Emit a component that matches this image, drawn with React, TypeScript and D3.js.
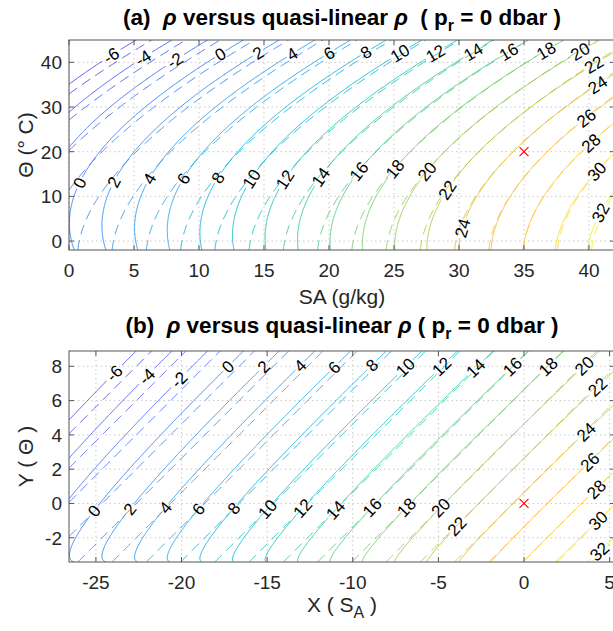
import React, { useMemo } from "react";
import * as d3 from "d3";

// One-atmosphere equation of state of seawater (UNESCO 1981 coefficients)
const PURE_WATER = [999.842594, 6.793952e-2, -9.09529e-3, 1.001685e-4, -1.120083e-6, 6.536332e-9];
const SALT_LINEAR = [8.24493e-1, -4.0899e-3, 7.6438e-5, -8.2467e-7, 5.3875e-9];
const SALT_THREE_HALVES = [-5.72466e-3, 1.0227e-4, -1.6546e-6];
const SALT_SQUARED = [4.8314e-4];
const SA_PER_SP = [35.16504 / 35];

// Reference point (red cross) and plotted ranges
const REF_POINT = [35, 20]; // [SA g/kg, Θ °C]
const SA_LIMITS = [0, 42];
const CT_LIMITS = [-2, 45];

// Contour levels of ρ - 1000 (kg m⁻³)
const LEVELS = [-6, -4, -2, 0, 2, 4, 6, 8, 10, 12, 14, 16, 18, 20, 22, 24, 26, 28, 30, 32];

// Axis ticks
const A_X_TICKS = [0, 5, 10, 15, 20, 25, 30, 35, 40];
const A_Y_TICKS = [0, 10, 20, 30, 40];
const B_X_TICKS = [-25, -20, -15, -10, -5, 0, 5];
const B_Y_TICKS = [-2, 0, 2, 4, 6, 8];

// parula colour map stops
const PARULA = [
  [0.2422, 0.1504, 0.6603], [0.2706, 0.2147, 0.8364], [0.2813, 0.3006, 0.9414],
  [0.2699, 0.3892, 0.9906], [0.1963, 0.4847, 0.9892], [0.1687, 0.5703, 0.9359],
  [0.1248, 0.6459, 0.8883], [0.0297, 0.7082, 0.8163], [0.0964, 0.75, 0.712],
  [0.2161, 0.7843, 0.5923], [0.3909, 0.8029, 0.4354], [0.6174, 0.7876, 0.2612],
  [0.8203, 0.7498, 0.1535], [0.9728, 0.7298, 0.2394], [0.9892, 0.8136, 0.1885],
  [0.9597, 0.9135, 0.1423], [0.9769, 0.9839, 0.0805],
];
const PARULA_POS = [0, 4, 8, 12, 16, 20, 24, 28, 32, 36, 40, 44, 48, 52, 56, 60, 63];

// ---- layout ----
const W = 613;
const H = 631;
const BOX_A = { left: 69, right: 615, top: 40, bottom: 250 };
const BOX_B = { left: 69, right: 615, top: 351, bottom: 562 };
const FONT = "'Liberation Sans', Arial, Helvetica, sans-serif";

// where each contour label sits: [level, x px, y px]
const LABEL_SPOTS_A: [number, number, number][] = [
  [-6, 107, 50], [-4, 139, 52], [-2, 172, 56], [0, 218, 50], [2, 257, 50], [4, 290, 50],
  [6, 328, 50], [8, 365, 50], [10, 398, 50], [12, 433, 50], [14, 472, 50], [16, 508, 50],
  [18, 545, 50], [20, 580, 50],
  [22, 595, 67], [24, 598, 85], [26, 588, 120], [28, 592, 145], [30, 597, 172], [32, 600, 212],
  [0, 80, 183], [2, 113, 182], [4, 148, 178], [6, 183, 178], [8, 217, 177], [10, 250, 178],
  [12, 283, 178], [14, 320, 177], [16, 357, 170], [18, 393, 168], [20, 428, 172],
  [22, 448, 190], [24, 463, 228],
];
const LABEL_SPOTS_B: [number, number, number][] = [
  [-6, 110, 368], [-4, 142, 372], [-2, 175, 375], [0, 223, 362], [2, 260, 363], [4, 297, 363],
  [6, 332, 365], [8, 370, 363], [10, 405, 367], [12, 440, 365], [14, 475, 367], [16, 513, 368],
  [18, 548, 367], [20, 585, 367],
  [22, 598, 388], [24, 587, 433], [26, 590, 462], [28, 595, 488], [30, 598, 520], [32, 600, 552],
  [0, 90, 507], [2, 125, 505], [4, 162, 505], [6, 197, 508], [8, 233, 508], [10, 265, 507],
  [12, 302, 508], [14, 335, 510], [16, 372, 507], [18, 407, 508], [20, 442, 508], [22, 457, 527],
];

// ---- physics helpers ----
const poly = (c: number[], t: number) => {
  let s = 0;
  let p = 1;
  for (const k of c) {
    s += k * p;
    p *= t;
  }
  return s;
};
function sigma(sa: number, ct: number) {
  const s = Math.max(sa, 0) / SA_PER_SP[0];
  return (
    poly(PURE_WATER, ct) +
    s * poly(SALT_LINEAR, ct) +
    s * Math.sqrt(s) * poly(SALT_THREE_HALVES, ct) +
    SALT_SQUARED[0] * s * s -
    1000
  );
}
const [REF_SA, REF_CT] = REF_POINT;
const SIGMA_REF = sigma(REF_SA, REF_CT);
const RHO_BETA = (sigma(REF_SA + 0.05, REF_CT) - sigma(REF_SA - 0.05, REF_CT)) / 0.1;
const toX = (sa: number) => RHO_BETA * (sa - REF_SA);
const toY = (ct: number) => SIGMA_REF - sigma(REF_SA, ct);
const fromX = (x: number) => REF_SA + x / RHO_BETA;
const fromY = (y: number) => {
  let lo = -2.5;
  let hi = 50;
  for (let k = 0; k < 60; k++) {
    const mid = (lo + hi) / 2;
    if (toY(mid) < y) lo = mid;
    else hi = mid;
  }
  return (lo + hi) / 2;
};

// ---- marching squares producing connected polylines ----
function contourChains(values: Float64Array, nx: number, ny: number, level: number) {
  const pts = new Map<number, [number, number]>();
  const segs: [number, number][] = [];
  const v = (i: number, j: number) => values[j * nx + i];
  const edge = (type: number, i: number, j: number) => {
    const k = type === 0 ? j * nx + i : nx * ny + j * nx + i;
    if (!pts.has(k)) {
      const a = v(i, j);
      const b = type === 0 ? v(i + 1, j) : v(i, j + 1);
      const t = (level - a) / (b - a);
      pts.set(k, type === 0 ? [i + t, j] : [i, j + t]);
    }
    return k;
  };
  for (let j = 0; j < ny - 1; j++) {
    for (let i = 0; i < nx - 1; i++) {
      const a = v(i, j), b = v(i + 1, j), c = v(i + 1, j + 1), d = v(i, j + 1);
      const sa = a >= level, sb = b >= level, sc = c >= level, sd = d >= level;
      if (sa === sb && sb === sc && sc === sd) continue;
      const top = sa !== sb ? edge(0, i, j) : -1;
      const right = sb !== sc ? edge(1, i + 1, j) : -1;
      const bottom = sd !== sc ? edge(0, i, j + 1) : -1;
      const left = sa !== sd ? edge(1, i, j) : -1;
      const cross = [top, right, bottom, left].filter((k) => k >= 0);
      if (cross.length === 2) segs.push([cross[0], cross[1]]);
      else if (cross.length === 4) {
        const centre = (a + b + c + d) / 4 >= level;
        if (centre === sa) segs.push([top, right], [bottom, left]);
        else segs.push([top, left], [right, bottom]);
      }
    }
  }
  const adj = new Map<number, number[]>();
  segs.forEach((s, idx) => {
    for (const k of s) {
      if (!adj.has(k)) adj.set(k, []);
      adj.get(k)!.push(idx);
    }
  });
  const used = new Uint8Array(segs.length);
  const walk = (startKey: number, startSeg: number) => {
    const chain = [startKey];
    let k = startKey;
    let s = startSeg;
    while (s >= 0 && !used[s]) {
      used[s] = 1;
      const [p, q] = segs[s];
      k = p === k ? q : p;
      chain.push(k);
      const nxt = adj.get(k)!.find((x) => !used[x]);
      s = nxt === undefined ? -1 : nxt;
    }
    return chain.map((key) => pts.get(key)!);
  };
  const chains: [number, number][][] = [];
  adj.forEach((list, k) => {
    if (list.length === 1 && !used[list[0]]) chains.push(walk(k, list[0]));
  });
  segs.forEach((s, idx) => {
    if (!used[idx]) chains.push(walk(s[0], idx));
  });
  return chains;
}

type Box = { left: number; right: number; top: number; bottom: number };

function buildPanel(
  box: Box,
  xDomain: number[],
  yDomain: number[],
  nx: number,
  ny: number,
  colMap: (x: number) => number,
  rowMap: (y: number) => number
) {
  const xs = d3.scaleLinear().domain(xDomain).range([box.left, box.right]);
  const ys = d3.scaleLinear().domain(yDomain).range([box.bottom, box.top]);
  const dx = (xDomain[1] - xDomain[0]) / (nx - 1);
  const dy = (yDomain[1] - yDomain[0]) / (ny - 1);
  const solid = new Float64Array(nx * ny);
  const dashed = new Float64Array(nx * ny);
  for (let j = 0; j < ny; j++) {
    const ct = rowMap(yDomain[0] + j * dy);
    const sRef = sigma(REF_SA, ct);
    for (let i = 0; i < nx; i++) {
      const sa = colMap(xDomain[0] + i * dx);
      solid[j * nx + i] = sigma(sa, ct);
      dashed[j * nx + i] = sRef + RHO_BETA * (sa - REF_SA);
    }
  }
  const toPix = (p: [number, number]): [number, number] => [
    xs(xDomain[0] + p[0] * dx),
    ys(yDomain[0] + p[1] * dy),
  ];
  const lines = (field: Float64Array) =>
    LEVELS.map((lv) => ({
      level: lv,
      chains: contourChains(field, nx, ny, lv).map((c) => c.map(toPix)),
    }));
  const [sMin, sMax] = d3.extent(solid) as [number, number];
  const [qMin, qMax] = d3.extent(dashed) as [number, number];
  return {
    xs,
    ys,
    solid: lines(solid),
    dashed: lines(dashed),
    range: [Math.min(sMin, qMin), Math.max(sMax, qMax)],
  };
}

function placeLabels(
  sets: { level: number; chains: [number, number][][] }[],
  spots: [number, number, number][]
) {
  const out: { level: number; x: number; y: number; angle: number }[] = [];
  for (const [lv, ax, ay] of spots) {
    const set = sets.find((s) => s.level === lv);
    if (!set) continue;
    let best: { line: [number, number][]; k: number } | null = null;
    let bd = Infinity;
    for (const line of set.chains) {
      line.forEach((p, k) => {
        const d = (p[0] - ax) ** 2 + (p[1] - ay) ** 2;
        if (d < bd) {
          bd = d;
          best = { line, k };
        }
      });
    }
    if (!best) continue;
    const { line, k } = best as { line: [number, number][]; k: number };
    const p = line[k];
    let a = k;
    while (a > 0 && Math.hypot(line[a][0] - p[0], line[a][1] - p[1]) < 6) a--;
    let b = k;
    while (b < line.length - 1 && Math.hypot(line[b][0] - p[0], line[b][1] - p[1]) < 6) b++;
    let ang = (Math.atan2(line[b][1] - line[a][1], line[b][0] - line[a][0]) * 180) / Math.PI;
    if (ang > 90) ang -= 180;
    if (ang < -90) ang += 180;
    out.push({ level: lv, x: p[0], y: p[1], angle: ang });
  }
  return out;
}

const lineGen = d3.line<[number, number]>();

function Panel({
  id,
  box,
  data,
  colour,
  labels,
  xTicks,
  yTicks,
  cross,
}: {
  id: string;
  box: Box;
  data: ReturnType<typeof buildPanel>;
  colour: (v: number) => string;
  labels: ReturnType<typeof placeLabels>;
  xTicks: number[];
  yTicks: number[];
  cross: [number, number];
}) {
  const { xs, ys } = data;
  const axisCol = "#262626";
  const tick = 5;
  const lblSize = 17;
  return (
    <g>
      <defs>
        <clipPath id={`clip-${id}`}>
          <rect x={box.left} y={box.top} width={box.right - box.left} height={box.bottom - box.top} />
        </clipPath>
        <mask id={`mask-${id}`} maskUnits="userSpaceOnUse" x={0} y={0} width={W} height={H}>
          <rect x={0} y={0} width={W} height={H} fill="white" />
          {labels.map((l, i) => {
            const w = String(l.level).length * lblSize * 0.56 + 3;
            return (
              <rect
                key={i}
                x={-w / 2}
                y={-7}
                width={w}
                height={14}
                fill="black"
                transform={`translate(${l.x},${l.y}) rotate(${l.angle})`}
              />
            );
          })}
        </mask>
      </defs>
      {/* grid */}
      <g stroke="#bdbdbd" strokeWidth={0.8} strokeDasharray="1.5 3">
        {xTicks.map((t) => (
          <line key={`gx${t}`} x1={xs(t)} x2={xs(t)} y1={box.top} y2={box.bottom} />
        ))}
        {yTicks.map((t) => (
          <line key={`gy${t}`} x1={box.left} x2={box.right} y1={ys(t)} y2={ys(t)} />
        ))}
      </g>
      <g clipPath={`url(#clip-${id})`} fill="none">
        <g strokeWidth={0.9} strokeDasharray="10 6">
          {data.dashed.map((s) =>
            s.chains.map((c, k) => (
              <path key={`d${s.level}-${k}`} d={lineGen(c) || ""} stroke={colour(s.level)} />
            ))
          )}
        </g>
        <g strokeWidth={0.9} mask={`url(#mask-${id})`}>
          {data.solid.map((s) =>
            s.chains.map((c, k) => (
              <path key={`s${s.level}-${k}`} d={lineGen(c) || ""} stroke={colour(s.level)} />
            ))
          )}
        </g>
      </g>
      {/* contour labels */}
      <g fontFamily={FONT} fontSize={lblSize} fill="#000" textAnchor="middle">
        {labels.map((l, i) => (
          <text key={i} transform={`translate(${l.x},${l.y}) rotate(${l.angle})`} dy="0.36em">
            {String(l.level)}
          </text>
        ))}
      </g>
      {/* reference point */}
      <path
        d={`M${xs(cross[0]) - 4.5},${ys(cross[1]) - 4.5}L${xs(cross[0]) + 4.5},${ys(cross[1]) + 4.5}M${
          xs(cross[0]) - 4.5
        },${ys(cross[1]) + 4.5}L${xs(cross[0]) + 4.5},${ys(cross[1]) - 4.5}`}
        stroke="#ff0000"
        strokeWidth={1.1}
        fill="none"
      />
      {/* axes box and ticks */}
      <g stroke="#555" strokeWidth={1} fill="none">
        <rect x={box.left} y={box.top} width={box.right - box.left} height={box.bottom - box.top} />
        {xTicks.map((t) => (
          <g key={`tx${t}`}>
            <line x1={xs(t)} x2={xs(t)} y1={box.bottom} y2={box.bottom - tick} />
            <line x1={xs(t)} x2={xs(t)} y1={box.top} y2={box.top + tick} />
          </g>
        ))}
        {yTicks.map((t) => (
          <g key={`ty${t}`}>
            <line x1={box.left} x2={box.left + tick} y1={ys(t)} y2={ys(t)} />
            <line x1={box.right} x2={box.right - tick} y1={ys(t)} y2={ys(t)} />
          </g>
        ))}
      </g>
      <g fontFamily={FONT} fontSize={19} fill={axisCol}>
        {xTicks.map((t) => (
          <text key={`lx${t}`} x={xs(t)} y={box.bottom + 27} textAnchor="middle">
            {String(t)}
          </text>
        ))}
        {yTicks.map((t) => (
          <text key={`ly${t}`} x={box.left - 7} y={ys(t)} dy="0.36em" textAnchor="end">
            {String(t)}
          </text>
        ))}
      </g>
    </g>
  );
}

export default function App() {
  const model = useMemo(() => {
    const a = buildPanel(BOX_A, SA_LIMITS, CT_LIMITS, 232, 260, (x) => x, (y) => y);
    const bx = [toX(SA_LIMITS[0]), toX(SA_LIMITS[1])];
    const by = [toY(CT_LIMITS[0]), toY(CT_LIMITS[1])];
    const b = buildPanel(BOX_B, bx, by, 320, 260, fromX, fromY);
    const lo = Math.min(a.range[0], b.range[0]);
    const hi = Math.max(a.range[1], b.range[1]);
    const cmap = d3
      .scaleLinear<string>()
      .domain(PARULA_POS.map((p) => p / 63))
      .range(PARULA.map((c) => d3.rgb(c[0] * 255, c[1] * 255, c[2] * 255).formatHex()))
      .interpolate(d3.interpolateRgb)
      .clamp(true);
    const colour = (v: number) => cmap((v - lo) / (hi - lo));
    return {
      a,
      b,
      colour,
      labelsA: placeLabels(a.solid, LABEL_SPOTS_A),
      labelsB: placeLabels(b.solid, LABEL_SPOTS_B),
    };
  }, []);

  const cxA = (BOX_A.left + BOX_A.right) / 2;
  const cxB = (BOX_B.left + BOX_B.right) / 2;
  return (
    <svg
      width={W}
      height={H}
      style={{ position: "absolute", left: 0, top: 0, background: "#fff" }}
      fontFamily={FONT}
    >
      <rect x={0} y={0} width={W} height={H} fill="#fff" />
      <Panel
        id="a"
        box={BOX_A}
        data={model.a}
        colour={model.colour}
        labels={model.labelsA}
        xTicks={A_X_TICKS}
        yTicks={A_Y_TICKS}
        cross={[REF_SA, REF_CT]}
      />
      <Panel
        id="b"
        box={BOX_B}
        data={model.b}
        colour={model.colour}
        labels={model.labelsB}
        xTicks={B_X_TICKS}
        yTicks={B_Y_TICKS}
        cross={[toX(REF_SA), toY(REF_CT)]}
      />
      {/* titles */}
      <text x={cxA} y={25} textAnchor="middle" fontWeight="bold" fontSize={22.5} fill="#000" style={{ whiteSpace: "pre" }}>
        {"(a)  "}
        <tspan fontStyle="italic">ρ</tspan>
        {" versus quasi-linear "}
        <tspan fontStyle="italic">ρ</tspan>
        {"  ( p"}
        <tspan fontSize={16} dy={6}>r</tspan>
        <tspan dy={-6}>{" = 0 dbar )"}</tspan>
      </text>
      <text x={cxB} y={333} textAnchor="middle" fontWeight="bold" fontSize={22.5} fill="#000" style={{ whiteSpace: "pre" }}>
        {"(b)  "}
        <tspan fontStyle="italic">ρ</tspan>
        {" versus quasi-linear "}
        <tspan fontStyle="italic">ρ</tspan>
        {" ( p"}
        <tspan fontSize={16} dy={6}>r</tspan>
        <tspan dy={-6}>{" = 0 dbar )"}</tspan>
      </text>
      {/* axis titles */}
      <g fontSize={21} fill="#262626" textAnchor="middle" style={{ whiteSpace: "pre" }}>
        <text x={cxA} y={304}>SA (g/kg)</text>
        <text transform={`translate(33,${(BOX_A.top + BOX_A.bottom) / 2}) rotate(-90)`}>Θ (° C)</text>
        <text x={cxB} y={612}>
          {"X ( S"}
          <tspan fontSize={16} dy={6}>A</tspan>
          <tspan dy={-6}>{" )"}</tspan>
        </text>
        <text transform={`translate(33,${(BOX_B.top + BOX_B.bottom) / 2}) rotate(-90)`}>{"Y ( Θ )"}</text>
      </g>
    </svg>
  );
}
